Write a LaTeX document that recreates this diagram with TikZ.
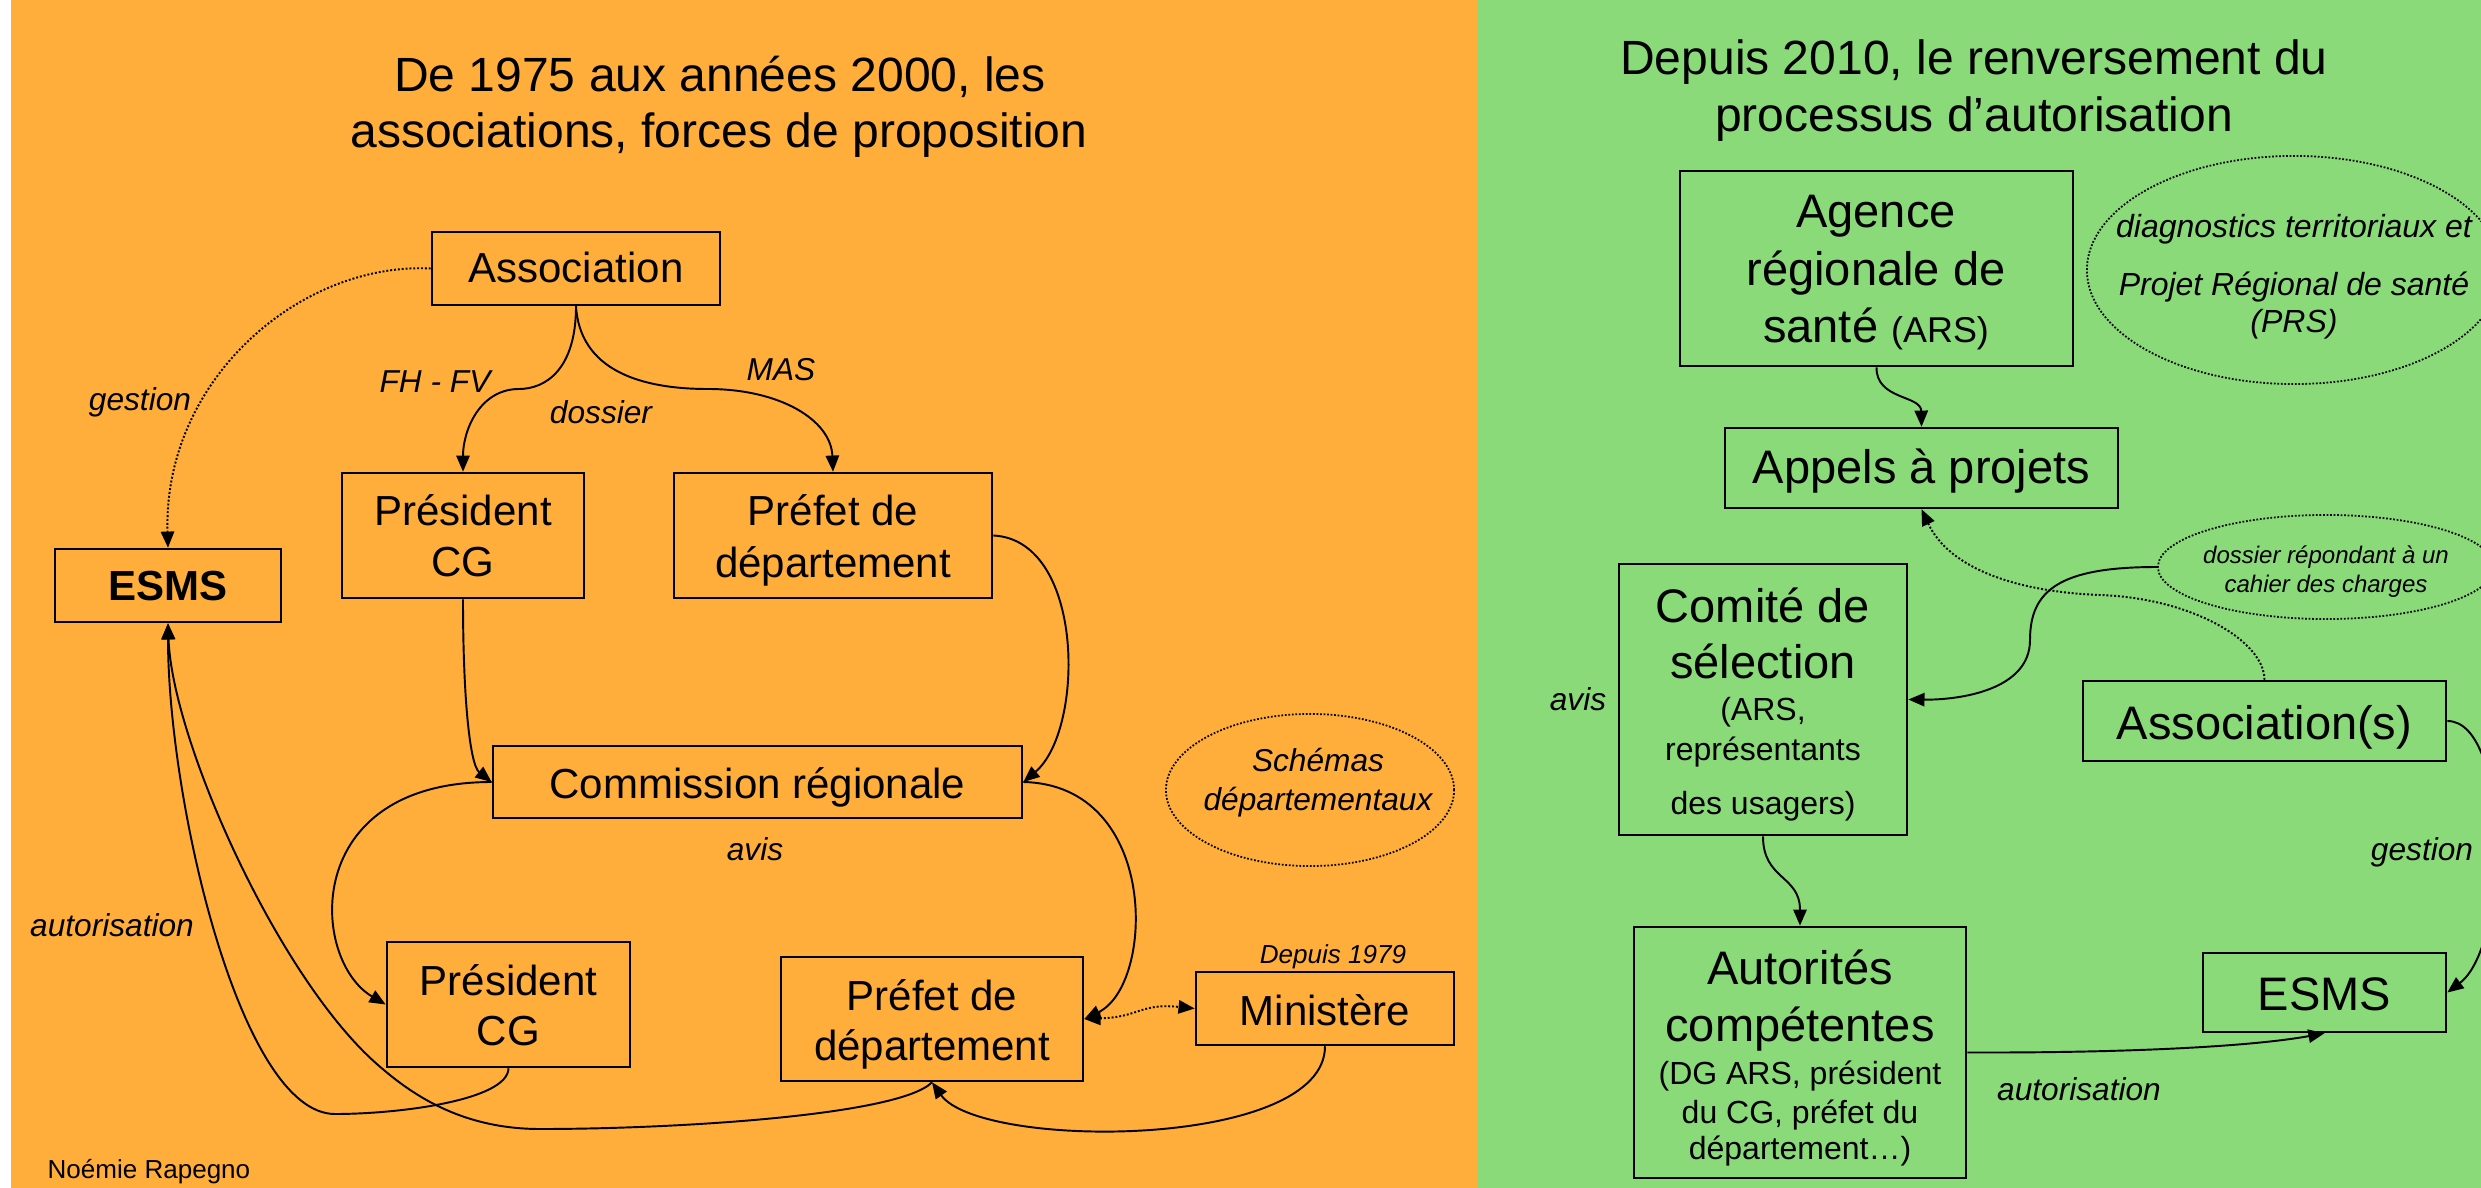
\documentclass[tikz,border=0pt]{standalone}
\usepackage{fontspec}
\setmainfont{Liberation Sans}
\usetikzlibrary{arrows.meta,shapes.geometric}
\definecolor{orangebg}{RGB}{255,174,60}
\definecolor{greenbg}{RGB}{138,218,122}
\tikzset{
  box/.style={draw=black, line width=0.7pt, rectangle, inner sep=0pt},
  dotell/.style={draw=black, ellipse, line width=0.5pt, dash pattern=on 0.5pt off 0.5pt, inner sep=0pt},
  tip/.style={-{Triangle[length=4.6pt,width=3.8pt]}},
  conn/.style={line width=0.55pt, tip},
  dotconn/.style={line width=0.55pt, dash pattern=on 0.55pt off 0.55pt, tip},
  ttl/.style={anchor=base, inner sep=0pt, font=\fontsize{13.66pt}{16pt}\selectfont},
  bl/.style={anchor=base, inner sep=0pt, font=\fontsize{11.95pt}{14pt}\selectfont},
  br/.style={anchor=base, inner sep=0pt, font=\fontsize{13.37pt}{16pt}\selectfont},
  sm/.style={anchor=base, inner sep=0pt, font=\fontsize{9.1pt}{11pt}\selectfont},
  lbl/.style={anchor=base, inner sep=0pt, font=\fontsize{9pt}{11pt}\selectfont\itshape},
  tiny/.style={anchor=base, inner sep=0pt, font=\fontsize{7.4pt}{9pt}\selectfont},
}
\begin{document}
\begin{tikzpicture}[x=0.01cm, y=-0.01cm]
% backgrounds
\fill[white] (0,0) rectangle (2481,1188);
\fill[orangebg] (11,0) rectangle (1478,1188);
\fill[greenbg] (1478,0) rectangle (2481,1188);
\useasboundingbox (0,0) rectangle (2481,1188);

% ---------------- left panel ----------------
\node[ttl] (titleL1) at (720,92) {De 1975 aux années 2000, les};
\node[ttl] (titleL2) at (719,148) {associations, forces de proposition};

\node[box, minimum width=2.88cm, minimum height=0.73cm] (assoc) at (576,268.5) {};
\node[bl] (assoc-t) at (576,283) {Association};

\node[box, minimum width=2.26cm, minimum height=0.73cm] (esmsL) at (168,585.5) {};
\node[bl] (esmsL-t) at (168,600) {\bfseries ESMS};

\node[box, minimum width=2.42cm, minimum height=1.25cm] (pres1) at (463,535.5) {};
\node[bl] (pres1-a) at (463,525) {Président};
\node[bl] (pres1-b) at (463,576) {CG};

\node[box, minimum width=3.18cm, minimum height=1.25cm] (pref1) at (833,535.5) {};
\node[bl] (pref1-a) at (833,525) {Préfet de};
\node[bl] (pref1-b) at (833,577) {département};

\node[box, minimum width=5.29cm, minimum height=0.72cm] (comm) at (757.5,782) {};
\node[bl] (comm-t) at (757.5,798) {Commission régionale};

\node[box, minimum width=2.43cm, minimum height=1.25cm] (pres2) at (508.5,1004.5) {};
\node[bl] (pres2-a) at (508.5,995) {Président};
\node[bl] (pres2-b) at (508.5,1045) {CG};

\node[box, minimum width=3.02cm, minimum height=1.24cm] (pref2) at (932,1019) {};
\node[bl] (pref2-a) at (932,1010) {Préfet de};
\node[bl] (pref2-b) at (932,1060) {département};

\node[box, minimum width=2.58cm, minimum height=0.73cm] (mini) at (1325,1008.5) {};
\node[bl] (mini-t) at (1325,1025) {Ministère};
\node[lbl, font=\fontsize{7.4pt}{9pt}\selectfont\itshape] (depuis) at (1333,963) {Depuis 1979};

\node[dotell, minimum width=2.88cm, minimum height=1.52cm] (schem) at (1310,790) {};
\node[lbl] (schem-a) at (1318,771) {Schémas};
\node[lbl] (schem-b) at (1318,810) {départementaux};

\node[lbl] (l-gestion) at (140,410) {gestion};
\node[lbl] (l-fhfv) at (435,393) {FH - FV};
\node[lbl] (l-dossier) at (601,423) {dossier};
\node[lbl] (l-mas) at (781,380) {MAS};
\node[lbl] (l-avis) at (755,860) {avis};
\node[lbl] (l-autor) at (112,936) {autorisation};
\node[tiny, anchor=base west] (author) at (47,1178) {Noémie Rapegno};

% connectors left
\draw[conn] (assoc.south) .. controls (576,370) and (545,389) .. (519,389)
            .. controls (480,389) and (463,430) .. (pres1.north);
\draw[conn] (assoc.south) .. controls (580,370) and (640,389) .. (708,389)
            .. controls (780,389) and (831,420) .. (pref1.north);
\draw[dotconn] (assoc.west) .. controls (300,262) and (163,380) .. (esmsL.north);
\draw[conn] (pres1.south) .. controls (463,700) and (470,765) .. (comm.west);
\draw[conn] (pref1.east) .. controls (1085,540) and (1085,730) .. (comm.east);
\draw[conn] (comm.west) .. controls (300,782) and (310,960) .. (pres2.west);
\draw[conn] (comm.east) .. controls (1160,785) and (1155,985) .. (pref2.east);
\draw[dotconn, {Triangle[length=4.6pt,width=3.8pt]}-{Triangle[length=4.6pt,width=3.8pt]}]
   (pref2.east) .. controls (1140,1017) and (1140,1003) .. (mini.west);
\draw[conn] (mini.south) .. controls (1325,1150) and (980,1150) .. (pref2.south);
\draw[conn] (pres2.south) .. controls (508,1100) and (400,1114) .. (335,1114)
            .. controls (240,1114) and (168,800) .. (esmsL.south);
\draw[conn] (pref2.south) .. controls (900,1115) and (680,1129) .. (540,1129)
            .. controls (460,1129) and (410,1093) .. (378,1065)
            .. controls (278,978) and (172,740) .. (esmsL.south);

% ---------------- right panel ----------------
\node[ttl] (titleR1) at (1974,75) {Depuis 2010, le renversement du};
\node[ttl] (titleR2) at (1974,132) {processus d’autorisation};

\node[box, minimum width=3.93cm, minimum height=1.95cm] (ars) at (1876.5,268.5) {};
\node[br] (ars-a) at (1876,228) {Agence};
\node[br] (ars-b) at (1876,285) {régionale de};
\node[br] (ars-c) at (1876,342) {santé {\fontsize{10.2pt}{12pt}\selectfont (ARS)}};

\node[dotell, minimum width=4.14cm, minimum height=2.28cm] (diag) at (2294,270) {};
\node[lbl, font=\fontsize{9.1pt}{11pt}\selectfont\itshape] (diag-a) at (2294,238) {diagnostics territoriaux et};
\node[lbl, font=\fontsize{9.1pt}{11pt}\selectfont\itshape] (diag-b) at (2294,296) {Projet Régional de santé};
\node[lbl, font=\fontsize{9.1pt}{11pt}\selectfont\itshape] (diag-c) at (2294,333) {(PRS)};

\node[box, minimum width=3.93cm, minimum height=0.80cm] (appels) at (1921.5,468) {};
\node[br] (appels-t) at (1921.5,483) {Appels à projets};

\node[dotell, minimum width=3.36cm, minimum height=1.04cm] (dossier) at (2326,567) {};
\node[lbl, font=\fontsize{6.83pt}{8pt}\selectfont\itshape] (dossier-a) at (2326,563) {dossier répondant à un};
\node[lbl, font=\fontsize{6.83pt}{8pt}\selectfont\itshape] (dossier-b) at (2326,592) {cahier des charges};

\node[box, minimum width=2.88cm, minimum height=2.71cm] (comite) at (1763,699.5) {};
\node[br] (comite-a) at (1763,622) {Comité de};
\node[br] (comite-b) at (1763,678) {sélection};
\node[sm] (comite-c) at (1763,720) {(ARS,};
\node[sm] (comite-d) at (1763,760) {représentants};
\node[sm] (comite-e) at (1763,814) {des usagers)};

\node[box, minimum width=3.63cm, minimum height=0.80cm] (assocs) at (2264.5,721) {};
\node[br] (assocs-t) at (2264.5,739) {Association(s)};

\node[box, minimum width=2.43cm, minimum height=0.79cm] (esmsR) at (2324.5,992.5) {};
\node[br] (esmsR-t) at (2324.5,1010) {ESMS};

\node[box, minimum width=3.32cm, minimum height=2.51cm] (autor) at (1800,1052.5) {};
\node[br] (autor-a) at (1800,984) {Autorités};
\node[br] (autor-b) at (1800,1041) {compétentes};
\node[sm] (autor-c) at (1800,1084) {(DG ARS, président};
\node[sm] (autor-d) at (1800,1123) {du CG, préfet du};
\node[sm] (autor-e) at (1800,1159) {département…)};

\node[lbl] (r-avis) at (1578,710) {avis};
\node[lbl] (r-autor) at (2079,1100) {autorisation};
\node[lbl] (r-gestion) at (2422,860) {gestion};

% connectors right
\draw[conn] (ars.south) .. controls (1876,400) and (1921,395) .. (appels.north);
\draw[dotconn] (assocs.north) .. controls (2264,640) and (2190,598) .. (2100,595)
            .. controls (2020,592) and (1950,570) .. (appels.south);
\draw[conn] (dossier.west) .. controls (2060,567) and (2030,590) .. (2030,640)
            .. controls (2030,690) and (1960,700) .. (comite.east);
\draw[conn] (comite.south) .. controls (1763,880) and (1800,875) .. (autor.north);
\draw[conn] (autor.east) .. controls (2150,1053) and (2260,1045) .. (esmsR.south);
\draw[conn] (assocs.east) .. controls (2510,721) and (2510,945) .. (esmsR.east);
\end{tikzpicture}
\end{document}
